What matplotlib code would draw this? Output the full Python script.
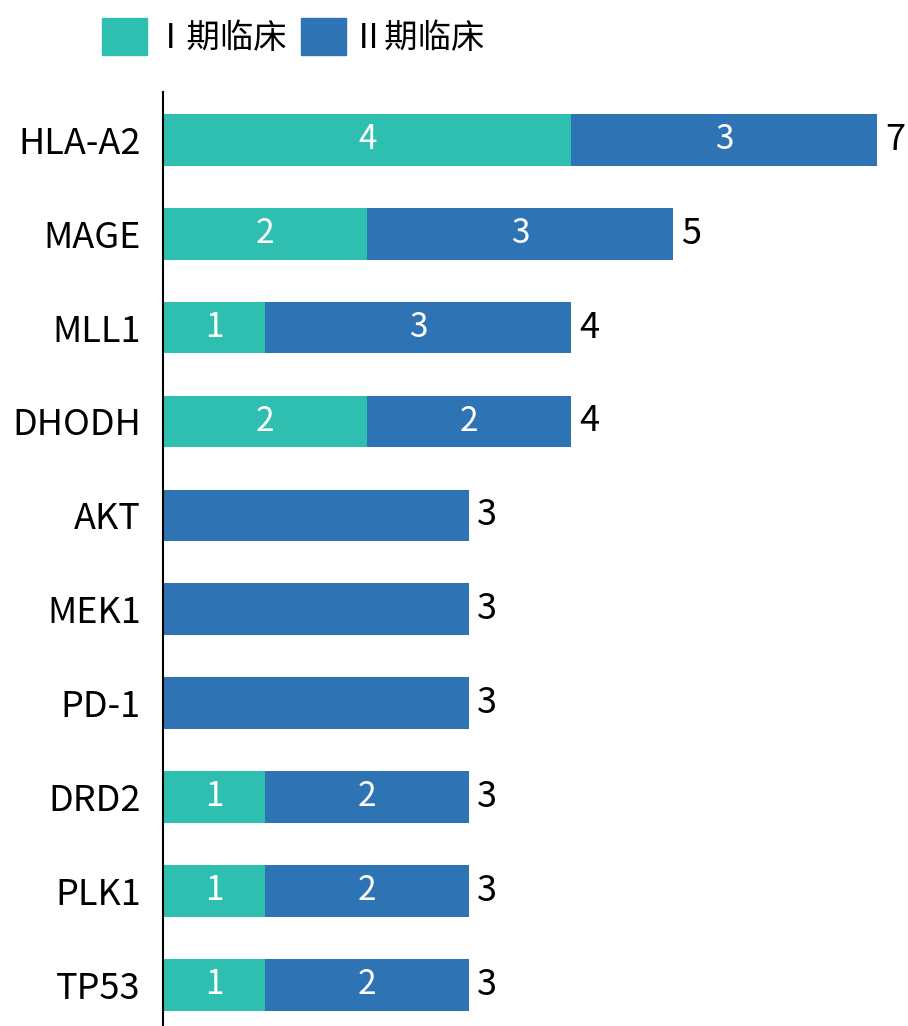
import matplotlib.pyplot as plt
from matplotlib.patches import Patch

plt.rcParams['font.family'] = ['Noto Sans CJK SC', 'DejaVu Sans']

targets = ['HLA-A2', 'MAGE', 'MLL1', 'DHODH', 'AKT', 'MEK1', 'PD-1', 'DRD2', 'PLK1', 'TP53']
phase1 = [4, 2, 1, 2, 0, 0, 0, 1, 1, 1]
phase2 = [3, 3, 3, 2, 3, 3, 3, 2, 2, 2]
series_names = ['Ⅰ期临床', 'Ⅱ期临床']

c1 = '#2FBFB0'
c2 = '#2E74B5'

fig = plt.figure(figsize=(9.08, 10.26), dpi=100)
ax = fig.add_axes([163 / 908, 0, 1 - 163 / 908, 1 - 92 / 1026])

y = list(range(len(targets)))
ax.barh(y, phase1, height=0.55, color=c1)
ax.barh(y, phase2, left=phase1, height=0.55, color=c2)

for i in y:
    a, b = phase1[i], phase2[i]
    if a > 0:
        ax.text(a / 2, i, str(a), ha='center', va='center', color='white', fontsize=24)
    if b > 0 and a > 0:
        ax.text(a + b / 2, i, str(b), ha='center', va='center', color='white', fontsize=24)
    ax.text(a + b + 0.08, i, str(a + b), ha='left', va='center', color='black', fontsize=26)

ax.set_xlim(0, 7.3)
ax.set_ylim(9.44, -0.51)
ax.set_yticks(y)
ax.set_yticklabels(targets, fontsize=26)
ax.tick_params(axis='y', length=0, pad=16)
ax.set_xticks([])
for s in ['top', 'right', 'bottom']:
    ax.spines[s].set_visible(False)
ax.spines['left'].set_linewidth(1.5)

handles = [Patch(color=c1), Patch(color=c2)]
fig.legend(handles, series_names, loc='upper left', bbox_to_anchor=(72 / 908, 1.012),
           ncol=2, frameon=False, fontsize=24, handlelength=1.35, handleheight=1.35,
           handletextpad=0.2, columnspacing=0.4)

fig.savefig('out.png', dpi=100)
